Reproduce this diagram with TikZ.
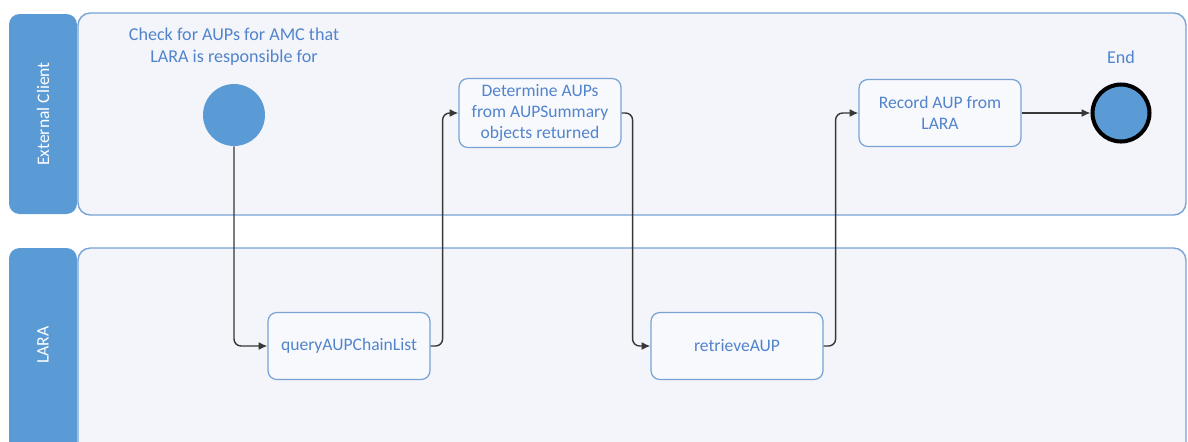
\documentclass[tikz,border=0pt]{standalone}
\usepackage{fontspec}
\setmainfont{Carlito}
\usepackage{tikz}
\usetikzlibrary{arrows.meta, positioning, calc}

\definecolor{laneblue}{RGB}{91,155,213}
\definecolor{laneline}{RGB}{120,163,212}
\definecolor{lanefill}{RGB}{243,245,250}
\definecolor{taskfill}{RGB}{247,249,253}
\definecolor{textblue}{RGB}{82,132,204}
\definecolor{flowgray}{RGB}{55,55,55}

\begin{document}
\begin{tikzpicture}[x=0.02cm, y=-0.02cm, header/.style={draw=none,
      fill=laneblue, rounded corners=6pt}, lanebody/.style={draw=laneline,
      fill=lanefill, line width=0.8pt, rounded corners=7pt},
      headerlabel/.style={text=white, font=\fontsize{10pt}{12pt}\selectfont,
      rotate=90}, task/.style={draw=laneline, fill=taskfill, line width=0.7pt,
      rounded corners=5pt, minimum width=3.24cm, minimum height=1.34cm,
      align=center, text=textblue, font=\fontsize{10pt}{12pt}\selectfont},
      startevent/.style={circle, fill=laneblue, minimum size=1.24cm},
      endevent/.style={circle, fill=laneblue, draw=black, line width=2.3pt,
      minimum size=1.14cm}, eventlabel/.style={text=textblue, align=center,
      font=\fontsize{10.3pt}{12.5pt}\selectfont}, flow/.style={draw=flowgray,
      line width=0.8pt, rounded corners=4pt, -{Latex[length=5pt, width=4.5pt]}} ]

    \useasboundingbox (0,0) rectangle (1188,441); \clip (0,0) rectangle
    (1188,441);

    % Swimlanes
    \draw[lanebody] (78,13) rectangle (1186,215); \draw[lanebody] (78,248)
    rectangle (1186,470); \path[header] (9,14) rectangle (77,214);
    \path[header] (9,248) rectangle (77,470);
    \node[headerlabel] (clientlane) at (43,114) {External Client};
    \node[headerlabel] (laralane) at (43,345) {LARA};

    % Events
    \node[startevent] (start) at (234,115) {}; \node[endevent] (end) at
    (1121,113) {};
    \node[eventlabel] (startlabel) at (234,47) {Check for AUPs for AMC that\\LARA
    is responsible for}; \node[eventlabel] (endlabel) at (1121,57) {End};

    % Tasks
    \node[task] (query) at (349,346) {queryAUPChainList}; \node[task]
    (determine) at (540,113) {Determine AUPs\\from AUPSummary\\objects returned};
    \node[task, minimum width=3.44cm] (retrieve) at (737,346) {retrieveAUP};
    \node[task] (record) at (940,113) {Record AUP from\\LARA};

    % Sequence flows
    \draw[flow] (start.south) |- (query.west); \draw[flow] (query.east) --
    ++(12,0) |- (determine.west); \draw[flow] (determine.east) -- ++(11,0) |-
    (retrieve.west); \draw[flow] (retrieve.east) -- ++(12,0) |- (record.west);
    \draw[flow] (record.east) -- (end.west);

\end{tikzpicture}
\end{document}
